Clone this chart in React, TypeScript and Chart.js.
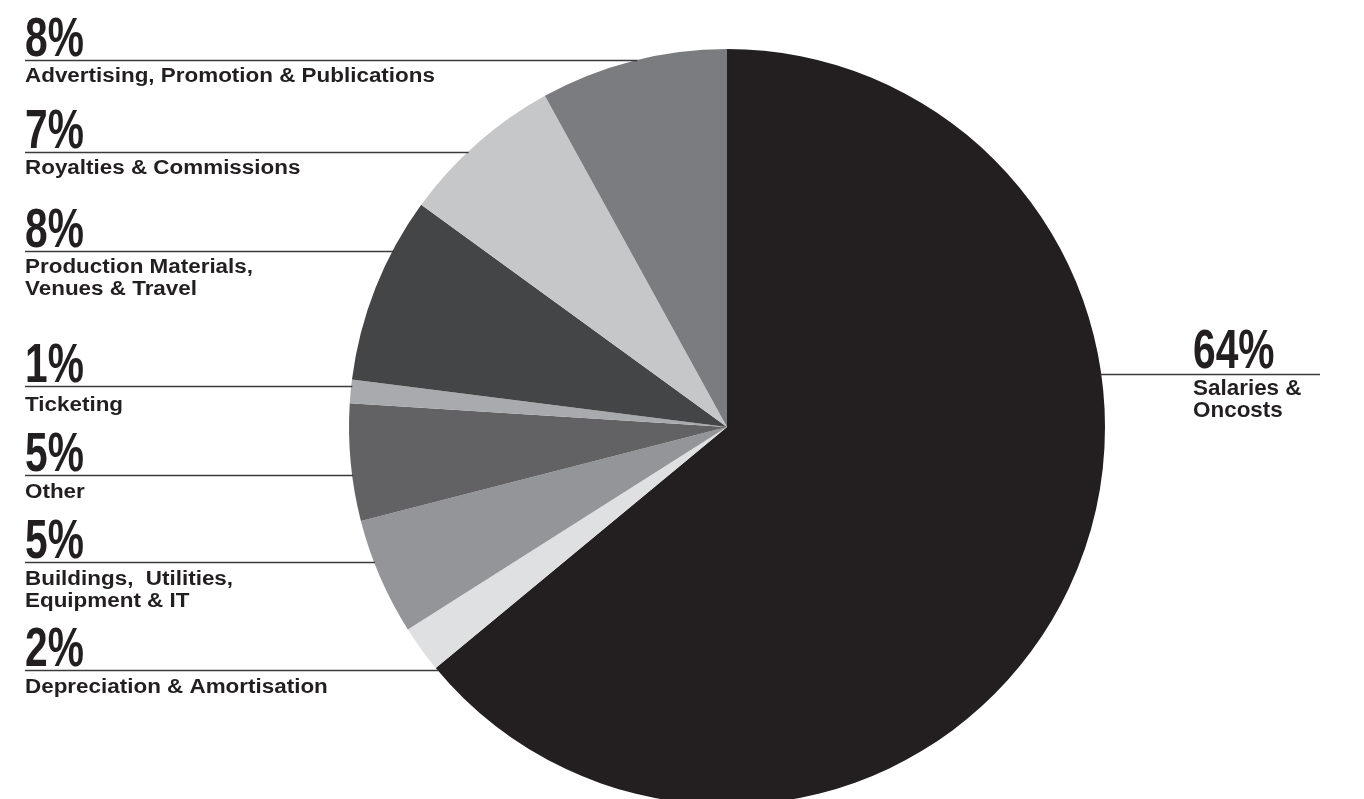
import React, { useEffect, useRef } from "react";
import { Chart, registerables } from "chart.js";

Chart.register(...registerables);

// ---- data ----
const categories = [
  "Salaries & Oncosts",
  "Depreciation & Amortisation",
  "Buildings,  Utilities, Equipment & IT",
  "Other",
  "Ticketing",
  "Production Materials, Venues & Travel",
  "Royalties & Commissions",
  "Advertising, Promotion & Publications",
];
const labelLines = [
  ["Salaries &", "Oncosts"],
  ["Depreciation & Amortisation"],
  ["Buildings,  Utilities,", "Equipment & IT"],
  ["Other"],
  ["Ticketing"],
  ["Production Materials,", "Venues & Travel"],
  ["Royalties & Commissions"],
  ["Advertising, Promotion & Publications"],
];
const values = [64, 2, 5, 5, 1, 8, 7, 8];
const sliceColors = [
  "#231f20",
  "#dfe0e2",
  "#939598",
  "#626264",
  "#a9aaad",
  "#444547",
  "#c6c7c9",
  "#7b7c80",
];

// ---- label layout (not data) ----
const leaderY = [374, 670, 562, 475, 386, 251, 152, 60];
const labelGap = [21, 23, 23, 23, 25, 22, 22, 22];
const leaderSide = ["right", "left", "left", "left", "left", "left", "left", "left"];

const TEXT = "#231f20";

const calloutPlugin = {
  id: "callouts",
  afterDatasetsDraw(chart: any) {
    const ctx = chart.ctx as CanvasRenderingContext2D;
    const arc = chart.getDatasetMeta(0).data[0] as any;
    if (!arc) return;
    const cx = arc.x;
    const cy = arc.y;
    const r = arc.outerRadius;
    ctx.save();
    values.forEach((v, i) => {
      const y = leaderY[i];
      const dy = y - cy;
      const dx = Math.sqrt(Math.max(r * r - dy * dy, 0));
      const right = leaderSide[i] === "right";
      const textX = right ? 1193 : 25;
      const x0 = right ? cx + dx - 1 : 25;
      const x1 = right ? 1320 : cx - dx + 1;
      // leader line
      ctx.strokeStyle = "#3b3b3d";
      ctx.lineWidth = 1.3;
      ctx.beginPath();
      ctx.moveTo(x0, y + 0.5);
      ctx.lineTo(x1, y + 0.5);
      ctx.stroke();
      // percentage (condensed)
      ctx.fillStyle = TEXT;
      ctx.textBaseline = "alphabetic";
      ctx.textAlign = "left";
      ctx.save();
      ctx.translate(textX, y - (right ? 6 : 4));
      ctx.scale(0.74, 1);
      ctx.font = "bold 55px 'Liberation Sans'";
      ctx.fillText(`${v}%`, 0, 0);
      ctx.restore();
      // category label
      labelLines[i].forEach((line, k) => {
        ctx.save();
        ctx.translate(textX, y + labelGap[i] + k * 22);
        if (right) {
          ctx.font = "bold 22px 'Liberation Sans'";
          ctx.scale(1.02, 1);
        } else {
          ctx.font = "bold 19.5px 'Liberation Sans'";
          ctx.scale(1.15, 1);
        }
        ctx.fillText(line, 0, 0);
        ctx.restore();
      });
    });
    ctx.restore();
  },
};

export default function App() {
  const ref = useRef<HTMLCanvasElement | null>(null);
  useEffect(() => {
    document.body.style.margin = "0";
    const canvas = ref.current;
    if (!canvas) return;
    const chart = new Chart(canvas, {
      type: "pie",
      data: {
        labels: categories,
        datasets: [
          {
            data: values,
            backgroundColor: sliceColors,
            borderWidth: 0,
          },
        ],
      },
      options: {
        responsive: false,
        animation: false,
        layout: { padding: { top: 49, bottom: 25, left: 349, right: 259 } },
        plugins: {
          legend: { display: false },
          tooltip: { enabled: false },
        },
      },
      plugins: [calloutPlugin],
    });
    return () => chart.destroy();
  }, []);
  return (
    <div style={{ width: 1364, height: 799, overflow: "hidden", position: "relative", background: "#fff" }}>
      <canvas ref={ref} width={1364} height={830} style={{ display: "block" }} />
    </div>
  );
}
